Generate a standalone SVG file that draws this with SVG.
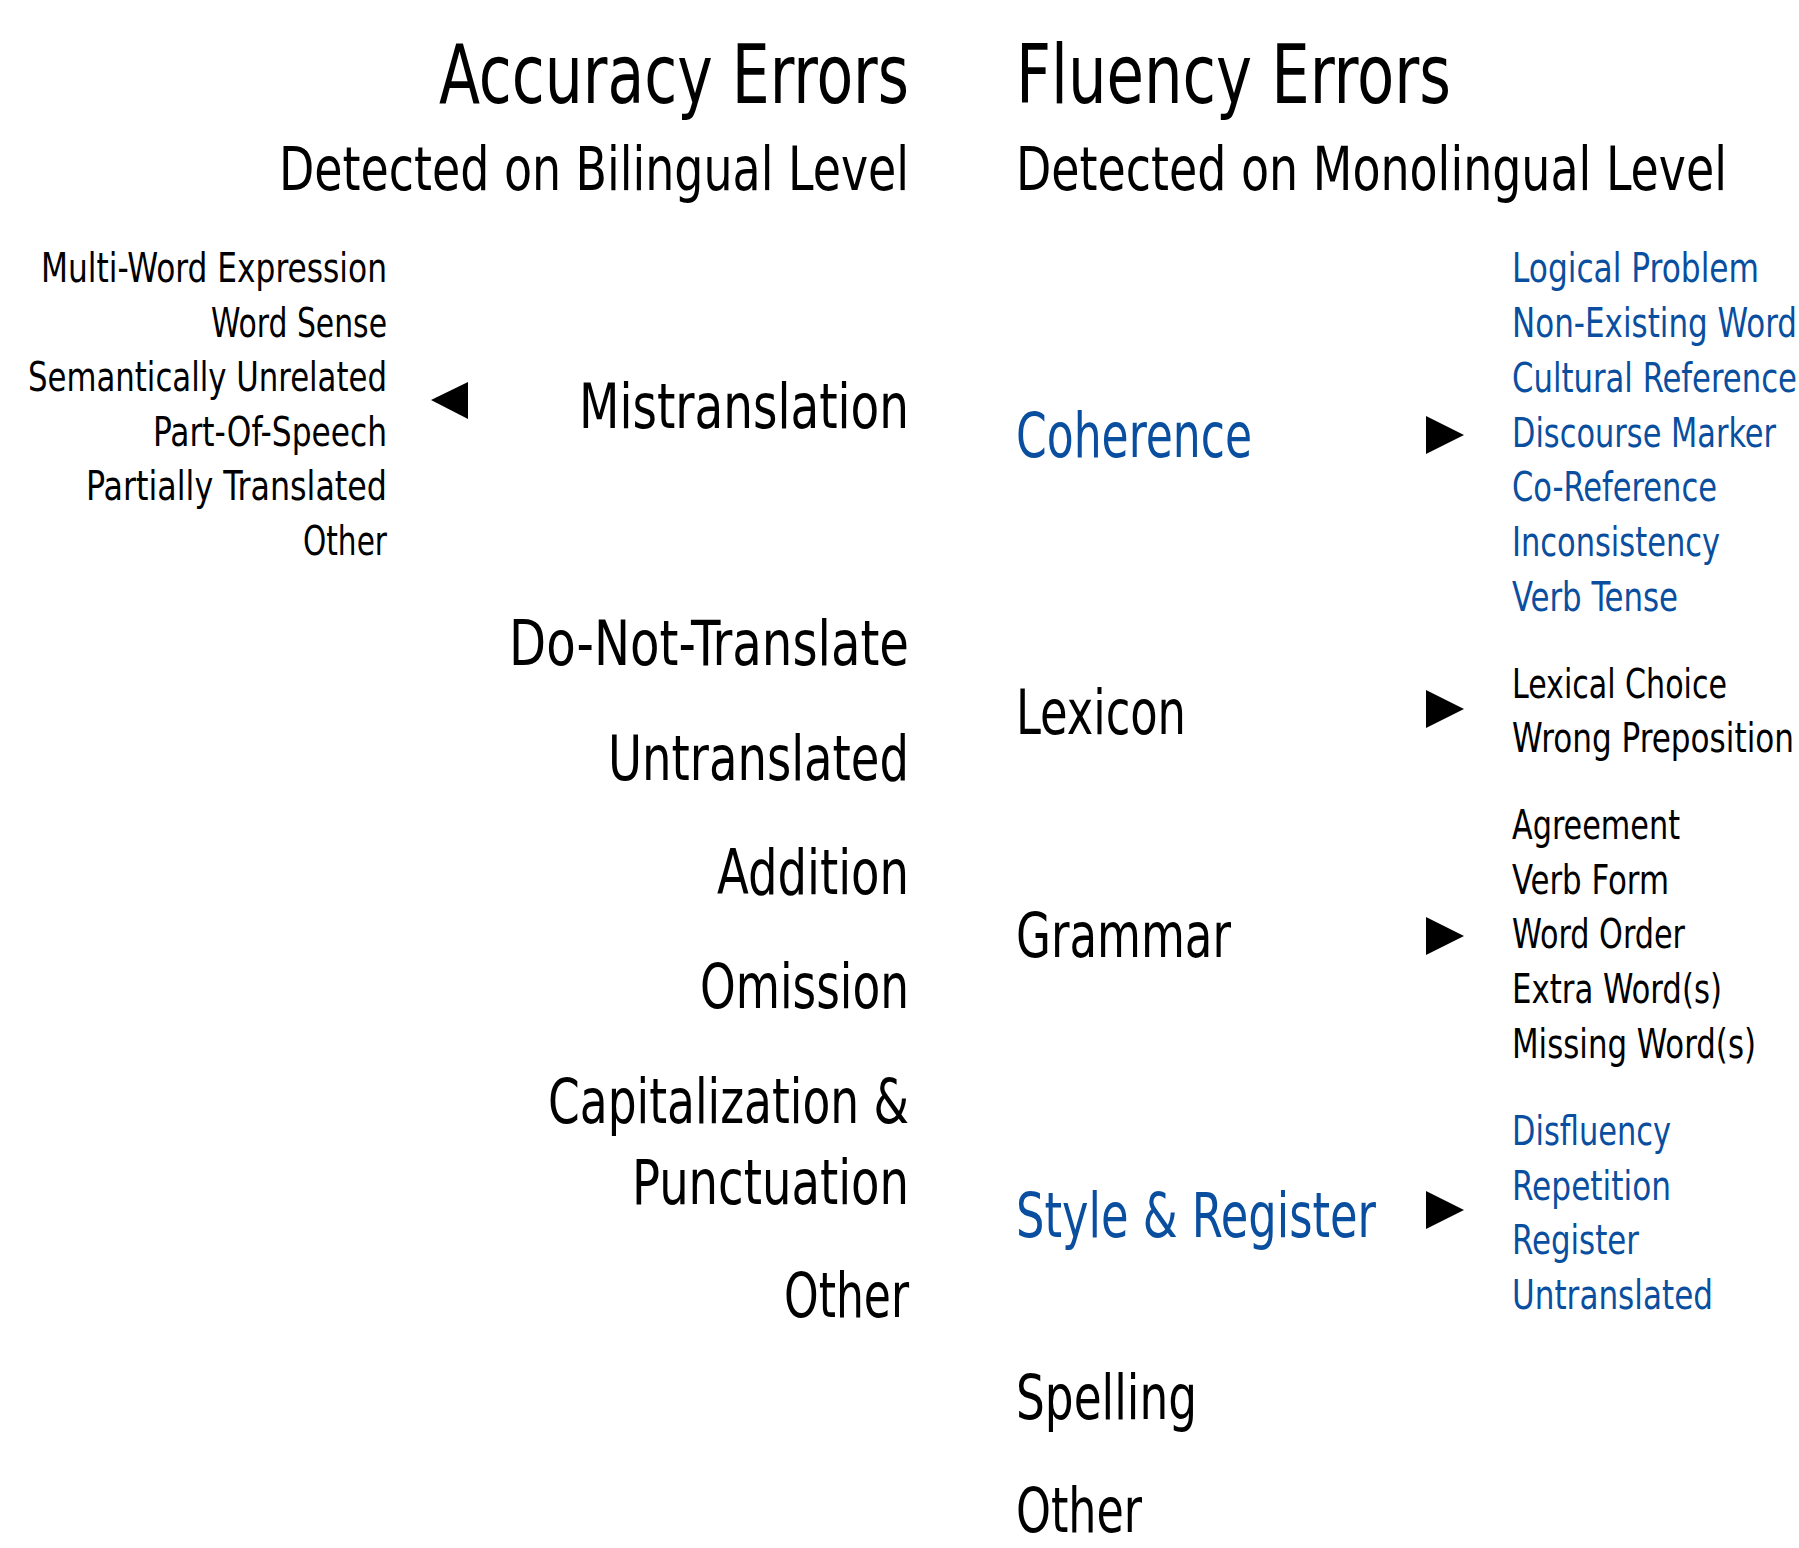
<svg xmlns="http://www.w3.org/2000/svg" width="1799" height="1548" viewBox="0 0 1799 1548">
<style>
text{font-family:"DejaVu Sans Condensed","Liberation Sans Narrow","DejaVu Sans",sans-serif;fill:#000}
.t{font-size:82px}
.s{font-size:61px}
.m{font-size:62px}
.i{font-size:41px}
.b{fill:#0a4f9f}
.r{text-anchor:end}
.arr{fill:#000}
</style>
<rect width="1799" height="1548" fill="#fff"/>
<g id="accuracy-header">
<text class="t r" x="909" y="103" textLength="470" lengthAdjust="spacingAndGlyphs">Accuracy Errors</text>
<text class="s r" x="909" y="190" textLength="630" lengthAdjust="spacingAndGlyphs">Detected on Bilingual Level</text>
</g>
<g id="fluency-header">
<text class="t" x="1016" y="103" textLength="435" lengthAdjust="spacingAndGlyphs">Fluency Errors</text>
<text class="s" x="1016" y="190" textLength="711" lengthAdjust="spacingAndGlyphs">Detected on Monolingual Level</text>
</g>
<g id="mistranslation-sub">
<text class="i r" x="387" y="282" textLength="346" lengthAdjust="spacingAndGlyphs">Multi-Word Expression</text>
<text class="i r" x="387" y="337" textLength="176" lengthAdjust="spacingAndGlyphs">Word Sense</text>
<text class="i r" x="387" y="391" textLength="359" lengthAdjust="spacingAndGlyphs">Semantically Unrelated</text>
<text class="i r" x="387" y="446" textLength="234" lengthAdjust="spacingAndGlyphs">Part-Of-Speech</text>
<text class="i r" x="387" y="500" textLength="301" lengthAdjust="spacingAndGlyphs">Partially Translated</text>
<text class="i r" x="387" y="555" textLength="84" lengthAdjust="spacingAndGlyphs">Other</text>
</g>
<g id="mistranslation"><text class="m r" x="909" y="428" textLength="330" lengthAdjust="spacingAndGlyphs">Mistranslation</text></g>
<g id="do-not-translate"><text class="m r" x="909" y="665" textLength="400" lengthAdjust="spacingAndGlyphs">Do-Not-Translate</text></g>
<g id="untranslated"><text class="m r" x="909" y="780" textLength="301" lengthAdjust="spacingAndGlyphs">Untranslated</text></g>
<g id="addition"><text class="m r" x="909" y="894" textLength="192" lengthAdjust="spacingAndGlyphs">Addition</text></g>
<g id="omission"><text class="m r" x="909" y="1008" textLength="209" lengthAdjust="spacingAndGlyphs">Omission</text></g>
<g id="capitalization">
<text class="m r" x="909" y="1123" textLength="361" lengthAdjust="spacingAndGlyphs">Capitalization &amp;</text>
<text class="m r" x="909" y="1204" textLength="277" lengthAdjust="spacingAndGlyphs">Punctuation</text>
</g>
<g id="accuracy-other"><text class="m r" x="909" y="1317" textLength="125" lengthAdjust="spacingAndGlyphs">Other</text></g>

<g id="coherence"><text class="m b" x="1016" y="457" textLength="236" lengthAdjust="spacingAndGlyphs">Coherence</text></g>
<g id="lexicon"><text class="m" x="1016" y="734" textLength="170" lengthAdjust="spacingAndGlyphs">Lexicon</text></g>
<g id="grammar"><text class="m" x="1016" y="957" textLength="215" lengthAdjust="spacingAndGlyphs">Grammar</text></g>
<g id="style-register"><text class="m b" x="1016" y="1237" textLength="360" lengthAdjust="spacingAndGlyphs">Style &amp; Register</text></g>
<g id="spelling"><text class="m" x="1016" y="1419" textLength="181" lengthAdjust="spacingAndGlyphs">Spelling</text></g>
<g id="fluency-other"><text class="m" x="1016" y="1532" textLength="126" lengthAdjust="spacingAndGlyphs">Other</text></g>

<g id="coherence-sub">
<text class="i b" x="1512" y="282" textLength="247" lengthAdjust="spacingAndGlyphs">Logical Problem</text>
<text class="i b" x="1512" y="337" textLength="285" lengthAdjust="spacingAndGlyphs">Non-Existing Word</text>
<text class="i b" x="1512" y="392" textLength="285" lengthAdjust="spacingAndGlyphs">Cultural Reference</text>
<text class="i b" x="1512" y="447" textLength="264" lengthAdjust="spacingAndGlyphs">Discourse Marker</text>
<text class="i b" x="1512" y="501" textLength="205" lengthAdjust="spacingAndGlyphs">Co-Reference</text>
<text class="i b" x="1512" y="556" textLength="208" lengthAdjust="spacingAndGlyphs">Inconsistency</text>
<text class="i b" x="1512" y="611" textLength="166" lengthAdjust="spacingAndGlyphs">Verb Tense</text>
</g>
<g id="lexicon-sub">
<text class="i" x="1512" y="698" textLength="215" lengthAdjust="spacingAndGlyphs">Lexical Choice</text>
<text class="i" x="1512" y="752" textLength="282" lengthAdjust="spacingAndGlyphs">Wrong Preposition</text>
</g>
<g id="grammar-sub">
<text class="i" x="1512" y="839" textLength="168" lengthAdjust="spacingAndGlyphs">Agreement</text>
<text class="i" x="1512" y="894" textLength="157" lengthAdjust="spacingAndGlyphs">Verb Form</text>
<text class="i" x="1512" y="948" textLength="173" lengthAdjust="spacingAndGlyphs">Word Order</text>
<text class="i" x="1512" y="1003" textLength="210" lengthAdjust="spacingAndGlyphs">Extra Word(s)</text>
<text class="i" x="1512" y="1058" textLength="244" lengthAdjust="spacingAndGlyphs">Missing Word(s)</text>
</g>
<g id="style-sub">
<text class="i b" x="1512" y="1145" textLength="159" lengthAdjust="spacingAndGlyphs">Disfluency</text>
<text class="i b" x="1512" y="1200" textLength="159" lengthAdjust="spacingAndGlyphs">Repetition</text>
<text class="i b" x="1512" y="1254" textLength="127" lengthAdjust="spacingAndGlyphs">Register</text>
<text class="i b" x="1512" y="1309" textLength="201" lengthAdjust="spacingAndGlyphs">Untranslated</text>
</g>

<g id="connectors">
<polygon class="arr" points="468,382 468,419 431,400"/>
<polygon class="arr" points="1426,416 1426,454 1464,435"/>
<polygon class="arr" points="1426,690 1426,728 1464,709"/>
<polygon class="arr" points="1426,917 1426,955 1464,936"/>
<polygon class="arr" points="1426,1191 1426,1229 1464,1210"/>
</g>
</svg>
